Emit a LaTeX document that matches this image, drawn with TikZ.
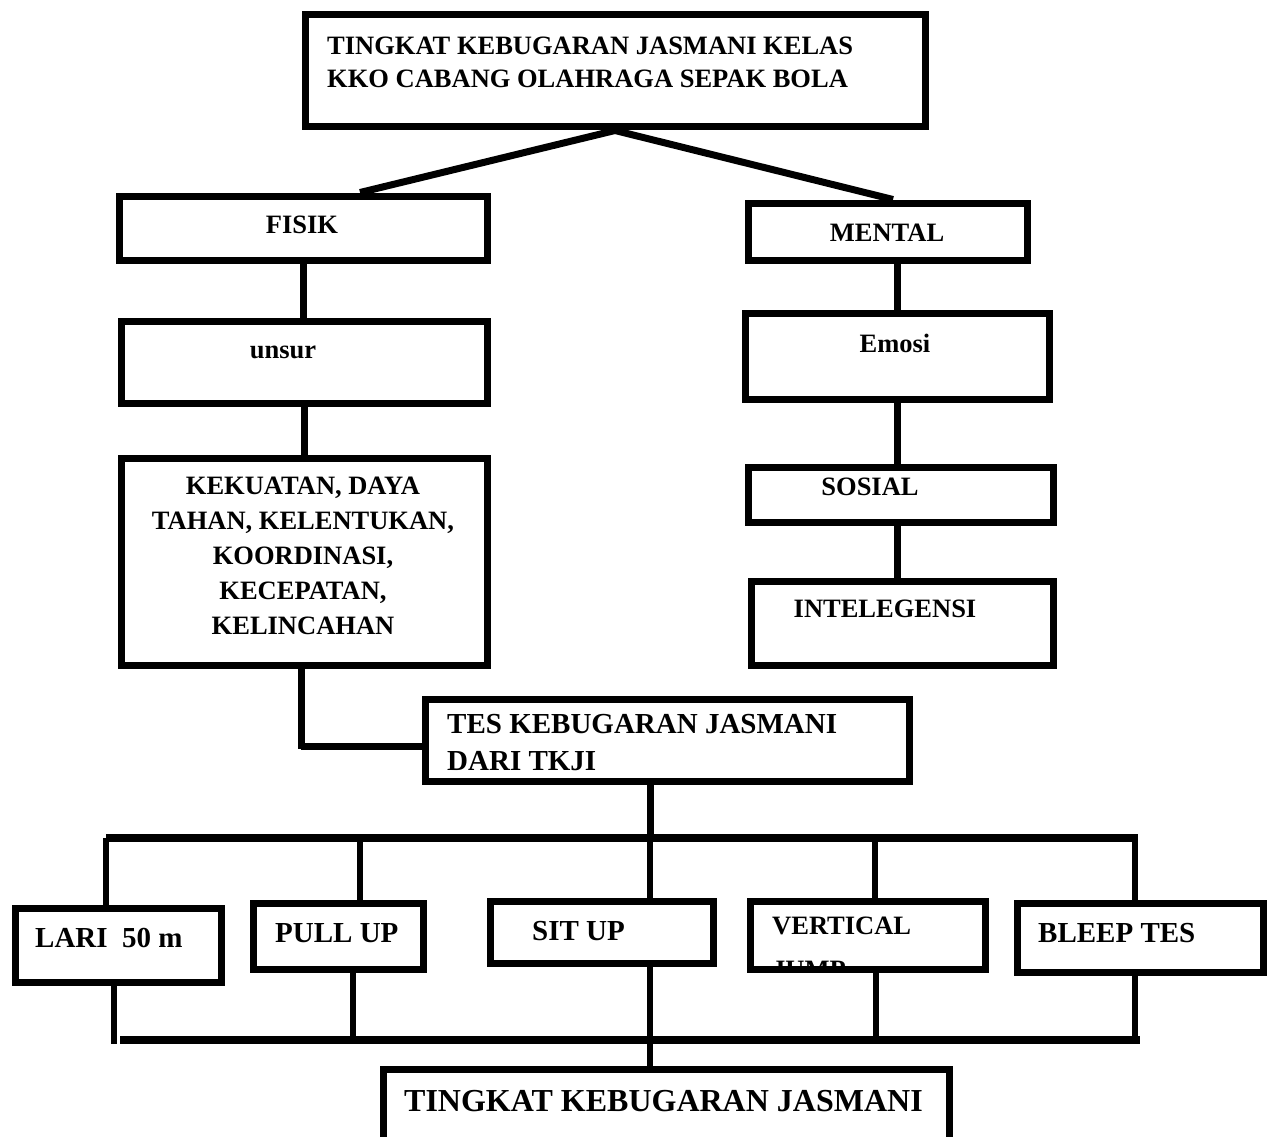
\documentclass[tikz,border=0pt]{standalone}
\usepackage{fontspec}
\setmainfont{Liberation Serif}
\usepackage{tikz}
\usetikzlibrary{calc}

\begin{document}
\begin{tikzpicture}[x=1pt, y=-1pt,
    box/.style={draw, line width=7pt, inner sep=0pt, fill=white},
    conn/.style={line width=7pt},
    drop/.style={line width=6pt},
    bar/.style={line width=8pt},
    txt/.style={font=\fontsize{26.5}{35}\selectfont\bfseries, inner sep=0pt},
    txtbig/.style={font=\fontsize{29}{37}\selectfont\bfseries, inner sep=0pt}]
    \useasboundingbox (0,0) rectangle (1269,1137);

    % boxes
    \node[box, minimum width=620, minimum height=112] (judul) at (615,71) {};
    \node[box, minimum width=368, minimum height=64] (fisik) at (303,228) {};
    \node[box, minimum width=279, minimum height=57] (mental) at (887.5,231.5) {};
    \node[box, minimum width=366, minimum height=82] (unsur) at (304,362) {};
    \node[box, minimum width=304, minimum height=86] (emosi) at (897,356) {};
    \node[box, minimum width=366, minimum height=207] (komponen) at (304,561.5) {};
    \node[box, minimum width=305, minimum height=55] (sosial) at (900.5,494.5) {};
    \node[box, minimum width=302, minimum height=84] (intel) at (902,623) {};
    \node[box, minimum width=484, minimum height=82] (tkji) at (667,740) {};
    \node[box, minimum width=206, minimum height=74] (lari) at (118,945) {};
    \node[box, minimum width=170, minimum height=66] (pullup) at (338,936) {};
    \node[box, minimum width=223, minimum height=62] (situp) at (601.5,932) {};
    \node[box, minimum width=235, minimum height=68] (vertical) at (867.5,935) {};
    \node[box, minimum width=246, minimum height=69] (bleep) at (1140,937.5) {};
    \node[box, minimum width=566, minimum height=74] (hasil) at (666,1106) {};

    % texts
    \node[txt, anchor=west, align=left] (tJudul) at (327,62.5)
        {TINGKAT KEBUGARAN JASMANI KELAS\\[-2pt]KKO CABANG OLAHRAGA SEPAK BOLA};
    \node[txt, anchor=base] (tFisik) at (302,233) {FISIK};
    \node[txt, anchor=base] (tMental) at (887,241) {MENTAL};
    \node[txt, anchor=base] (tUnsur) at (283,358) {unsur};
    \node[txt, anchor=base] (tEmosi) at (895,352) {Emosi};
    \node[txt, anchor=base] (tSosial) at (870,495) {SOSIAL};
    \node[txt, anchor=base] (tIntel) at (885,617) {INTELEGENSI};
    \node[txt, align=center] (tKomponen) at (303,556)
        {KEKUATAN, DAYA\\TAHAN, KELENTUKAN,\\KOORDINASI,\\KECEPATAN,\\KELINCAHAN};
    \node[txtbig, anchor=west, align=left] (tTkji) at (447,743)
        {TES KEBUGARAN JASMANI\\DARI TKJI};
    \node[txtbig, anchor=base west] (tLari) at (35,947) {LARI\ \ 50 m};
    \node[txtbig, anchor=base west] (tPullup) at (275,942) {PULL UP};
    \node[txtbig, anchor=base west] (tSitup) at (532,940) {SIT UP};
    \begin{scope}
        \clip ($(vertical.north west)+(3.5,3.5)$) rectangle ($(vertical.south east)+(-3.5,-3.5)$);
        \node[txt, anchor=north west, align=left] (tVertical) at (772,917) {VERTICAL\\[9pt]JUMP};
    \end{scope}
    \node[txtbig, anchor=base west] (tBleep) at (1038,942) {BLEEP TES};
    \node[font=\fontsize{32}{38}\selectfont\bfseries, inner sep=0pt, anchor=base west] (tHasil)
        at (404,1111) {TINGKAT KEBUGARAN JASMANI};

    % connectors
    \draw[conn] (judul.south) -- (fisik.north -| 360,0);
    \draw[conn] (judul.south) -- (mental.north -| 893,0);
    \draw[conn] (fisik.south) -- (fisik.south |- unsur.north);
    \draw[conn] (unsur.south) -- (komponen.north);
    \draw[conn] ([xshift=-3pt]komponen.south) -- ++(0,80) coordinate (siku);
    \draw[conn] (siku |- 0,746) -- (tkji.west |- 0,746);
    \draw[conn] (mental.south -| emosi.north) -- (emosi.north);
    \draw[conn] (emosi.south) -- (sosial.north -| emosi.south);
    \draw[conn] (sosial.south -| emosi.south) -- (intel.north -| emosi.south);

    \coordinate (barAtas) at (650,838);
    \coordinate (barBawah) at (650,1040);
    \draw[conn] (tkji.south -| barAtas) -- (barAtas);
    \draw[bar] (106,838) -- (1138,838);
    \draw[bar] (120,1040) -- (1140,1040);
    \foreach \b/\xa/\xb in {lari/106/114, pullup/360/353, situp/650/650, vertical/875/876, bleep/1135/1135} {
        \draw[drop] (\xa,838) -- (\b.north -| \xa,0);
        \draw[drop] (\b.south -| \xb,0) -- (\xb,1044);
    }
    \draw[drop] (barBawah) -- (hasil.north -| barBawah);
\end{tikzpicture}
\end{document}
